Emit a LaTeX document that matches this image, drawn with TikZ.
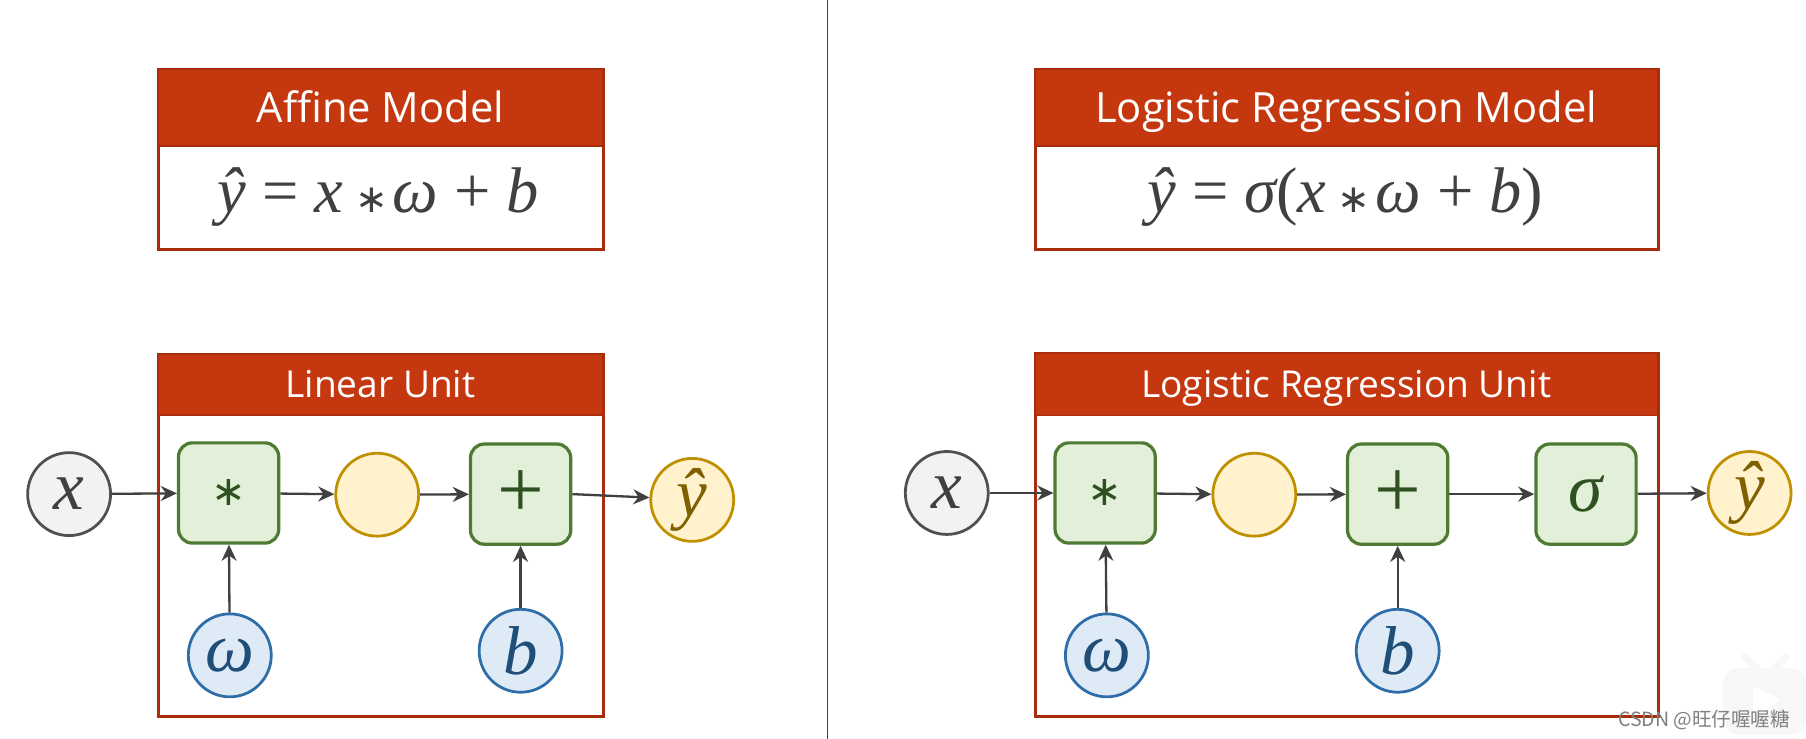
\documentclass[tikz,border=0pt]{standalone}
\usepackage{fontspec}
\setmainfont{Open Sans}
\newfontfamily\cjkwm{Noto Sans CJK SC}
\newfontfamily\mf{Liberation Serif}
\newfontfamily\symf{DejaVu Sans}
\newcommand{\mi}[1]{{\mf\itshape #1}}
\newcommand{\yh}{\mi{ŷ}}
\newcommand{\stargl}{{\symf\fontsize{17}{17}\selectfont ∗}}
\newcommand{\starop}{\kern5pt\stargl\kern2pt}
\definecolor{redhead}{HTML}{C5380F}
\definecolor{redline}{HTML}{A92C0C}
\definecolor{grayline}{HTML}{505050}
\definecolor{divline}{HTML}{404040}
\definecolor{grayfill}{HTML}{F2F2F2}
\definecolor{greenline}{HTML}{4E7A32}
\definecolor{greenfill}{HTML}{E2F0D9}
\definecolor{greentext}{HTML}{2F5020}
\definecolor{yellowline}{HTML}{BF9000}
\definecolor{yellowfill}{HTML}{FFF2CC}
\definecolor{yellowtext}{HTML}{7F6000}
\definecolor{blueline}{HTML}{2E6DA8}
\definecolor{bluefill}{HTML}{DEEBF7}
\definecolor{bluetext}{HTML}{1F4E79}
\definecolor{arrowgray}{HTML}{404040}
\usetikzlibrary{arrows.meta}
\tikzset{
  x=0.5pt,y=-0.5pt,
  headbox/.style={rectangle,draw=redline,line width=0.8pt,fill=redhead,text=white,inner sep=0pt,anchor=north west},
  bighead/.style={headbox,font=\fontsize{18.1}{18.1}\selectfont,text height=16pt,text depth=3pt,minimum height=33.5pt},
  smallhead/.style={headbox,font=\fontsize{16.1}{16.1}\selectfont,text height=14.6pt,text depth=3pt},
  bodybox/.style={rectangle,draw=redline,line width=1.3pt,fill=white,inner sep=0pt,anchor=north west,text=arrowgray},
  formula/.style={text=arrowgray,inner sep=0pt,font=\mf\fontsize{28}{28}\selectfont},
  grayc/.style={circle,draw=grayline,fill=grayfill,line width=1.2pt,minimum size=36pt,inner sep=0pt,text=arrowgray,font=\mf\fontsize{30}{30}\selectfont},
  yellowc/.style={circle,draw=yellowline,fill=yellowfill,line width=1.2pt,minimum size=36pt,inner sep=0pt,text=yellowtext,font=\mf\fontsize{30}{30}\selectfont},
  bluec/.style={circle,draw=blueline,fill=bluefill,line width=1.2pt,minimum size=36pt,inner sep=0pt,text=bluetext,font=\mf\fontsize{30}{30}\selectfont},
  opbox/.style={rectangle,rounded corners=6pt,draw=greenline,fill=greenfill,line width=1.4pt,minimum size=43.5pt,inner sep=0pt,text=greentext,font=\mf\fontsize{30}{30}\selectfont},
  plusop/.style={opbox,font=\mf\fontsize{36}{36}\selectfont},
  timesop/.style={opbox,font=\symf\fontsize{18}{18}\selectfont},
  flow/.style={draw=arrowgray,line width=1pt,-{Stealth[length=7pt,width=6.5pt]}},
}
\begin{document}
\begin{tikzpicture}
\useasboundingbox (0,0) rectangle (1568,641.6);
\fill[white] (0,0) rectangle (1568,641.6);

% watermark icon
\fill[rounded corners=7pt,black!3] (1496,580) rectangle (1568,638);
\draw[black!3,line width=3pt,line cap=round] (1515,570) -- (1525,580) (1551,570) -- (1541,580);
\fill[white,rounded corners=2pt] (1522,595) -- (1547,608) -- (1522,622) -- cycle;

% divider
\coordinate (dtop) at (718.5,0);
\coordinate (dbot) at (718.5,641.6);
\draw[draw=divline,line width=0.4pt] (dtop) -- (dbot);

% top boxes
\node[bodybox,minimum width=193pt,minimum height=78pt] (affbody) at (136.5,59) {};
\node[bighead,minimum width=193pt] (affhead) at (136.5,59) {Affine Model};
\node[formula] (afff) at (328.5,171) {\yh\ = \mi{x}\starop\mi{ω}\ + \mi{b}};

\node[bodybox,minimum width=270.5pt,minimum height=78pt] (lrbody) at (897.5,59) {};
\node[bighead,minimum width=270.5pt] (lrhead) at (897.5,59) {Logistic Regression Model};
\node[formula] (lrf) at (1168,171) {\yh\ = \mi{σ}(\mi{x}\starop\mi{ω}\ + \mi{b})};

% left unit
\node[bodybox,minimum width=193pt,minimum height=157pt] (lubody) at (136.5,306.5) {};
\node[smallhead,minimum width=193pt,minimum height=26.5pt] (luhead) at (136.5,306.5) {Linear Unit};
\node[grayc] (x1) at (60,429) {\mi{x}};
\node[timesop] (m1) at (198.5,428) {∗};
\node[yellowc] (h1) at (327.5,429.5) {};
\node[plusop] (p1) at (452,429) {+};
\node[yellowc] (y1) at (601,434) {\yh};
\node[bluec] (w1) at (199.5,569) {\mi{ω}};
\node[bluec] (b1) at (452,565) {\mi{b}};
\draw[flow] (x1) -- (m1);
\draw[flow] (m1) -- (h1);
\draw[flow] (h1) -- (p1);
\draw[flow] (p1.east) -- ([yshift=1pt]y1.west);
\draw[flow] (w1) -- (m1);
\draw[flow] (b1) -- (p1);

% right unit
\node[bodybox,minimum width=270.5pt,minimum height=157.5pt] (rubody) at (897.5,306) {};
\node[smallhead,minimum width=270.5pt,minimum height=27pt] (ruhead) at (897.5,306) {Logistic Regression Unit};
\node[grayc] (x2) at (822,428) {\mi{x}};
\node[timesop] (m2) at (959.5,428) {∗};
\node[yellowc] (h2) at (1089,429.5) {};
\node[plusop] (p2) at (1213.5,429) {+};
\node[opbox] (s2) at (1377,429) {\mi{σ}};
\node[yellowc] (y2) at (1519,428) {\yh};
\node[bluec] (w2) at (961,569) {\mi{ω}};
\node[bluec] (b2) at (1213.5,565) {\mi{b}};
\draw[flow] (x2) -- (m2);
\draw[flow] (m2) -- (h2);
\draw[flow] (h2) -- (p2);
\draw[flow] (p2) -- (s2);
\draw[flow] (s2) -- (y2);
\draw[flow] (w2) -- (m2);
\draw[flow] (b2) -- (p2);

% watermark text
\node[text=black!50,font=\cjkwm\fontsize{8.5}{8.5}\selectfont,inner sep=0pt] (wm) at (1479.5,625) {CSDN @旺仔喔喔糖};
\end{tikzpicture}
\end{document}
